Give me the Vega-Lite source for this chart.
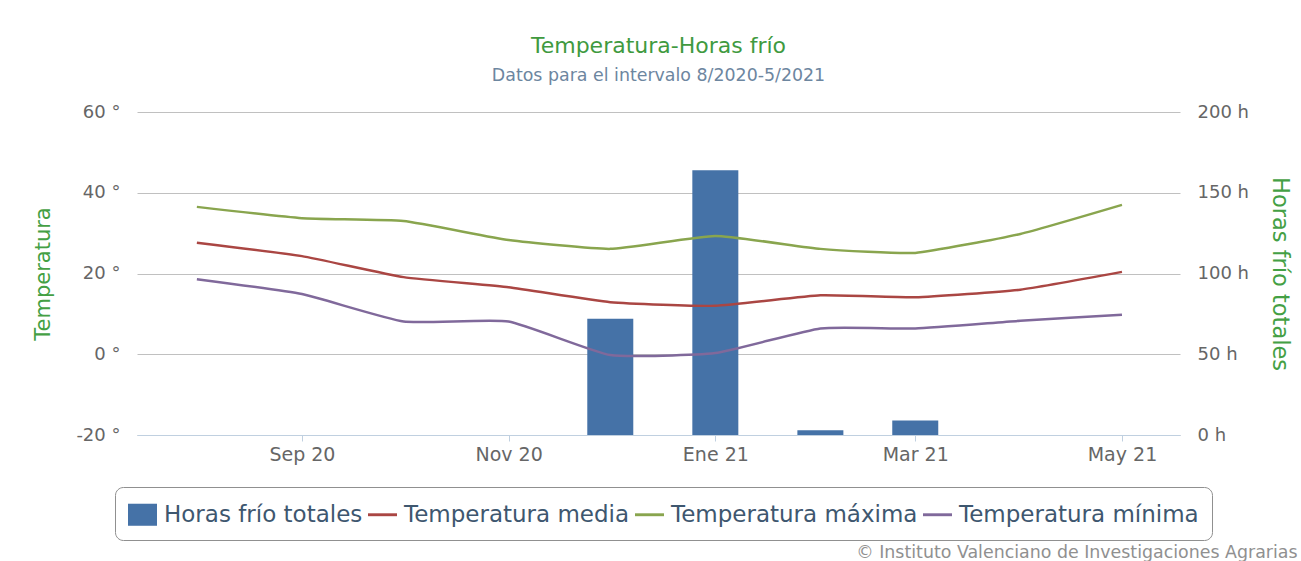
{
  "$schema": "https://vega.github.io/schema/vega-lite/v6.json",
  "width": 1043,
  "height": 323,
  "autosize": {"type": "none"},
  "padding": {"left": 137, "top": 112, "right": 121, "bottom": 126},
  "background": "#ffffff",
  "title": {
    "text": "Temperatura-Horas frío",
    "subtitle": "Datos para el intervalo 8/2020-5/2021",
    "anchor": "middle",
    "frame": "group",
    "offset": 18,
    "font": "DejaVu Sans",
    "fontSize": 22,
    "fontWeight": "normal",
    "color": "#3f9a3f",
    "subtitleFont": "DejaVu Sans",
    "subtitleFontSize": 17.4,
    "subtitleColor": "#6D869F",
    "subtitlePadding": 9
  },
  "datasets": {
    "horas": [
      {"fecha": "2020/08/01", "serie": "Horas frío totales", "horas": 0},
      {"fecha": "2020/09/01", "serie": "Horas frío totales", "horas": 0},
      {"fecha": "2020/10/01", "serie": "Horas frío totales", "horas": 0},
      {"fecha": "2020/11/01", "serie": "Horas frío totales", "horas": 0},
      {"fecha": "2020/12/01", "serie": "Horas frío totales", "horas": 72},
      {"fecha": "2021/01/01", "serie": "Horas frío totales", "horas": 164},
      {"fecha": "2021/02/01", "serie": "Horas frío totales", "horas": 3},
      {"fecha": "2021/03/01", "serie": "Horas frío totales", "horas": 9},
      {"fecha": "2021/04/01", "serie": "Horas frío totales", "horas": 0},
      {"fecha": "2021/05/01", "serie": "Horas frío totales", "horas": 0}
    ],
    "temp": [
      {"fecha": "2020/08/01", "serie": "Temperatura media", "temp": 27.6},
      {"fecha": "2020/09/01", "serie": "Temperatura media", "temp": 24.3},
      {"fecha": "2020/10/01", "serie": "Temperatura media", "temp": 19.1},
      {"fecha": "2020/11/01", "serie": "Temperatura media", "temp": 16.6},
      {"fecha": "2020/12/01", "serie": "Temperatura media", "temp": 12.9},
      {"fecha": "2021/01/01", "serie": "Temperatura media", "temp": 12.0},
      {"fecha": "2021/02/01", "serie": "Temperatura media", "temp": 14.6},
      {"fecha": "2021/03/01", "serie": "Temperatura media", "temp": 14.1},
      {"fecha": "2021/04/01", "serie": "Temperatura media", "temp": 16.0},
      {"fecha": "2021/05/01", "serie": "Temperatura media", "temp": 20.4},
      {"fecha": "2020/08/01", "serie": "Temperatura máxima", "temp": 36.5},
      {"fecha": "2020/09/01", "serie": "Temperatura máxima", "temp": 33.7},
      {"fecha": "2020/10/01", "serie": "Temperatura máxima", "temp": 33.0},
      {"fecha": "2020/11/01", "serie": "Temperatura máxima", "temp": 28.3},
      {"fecha": "2020/12/01", "serie": "Temperatura máxima", "temp": 26.1},
      {"fecha": "2021/01/01", "serie": "Temperatura máxima", "temp": 29.3},
      {"fecha": "2021/02/01", "serie": "Temperatura máxima", "temp": 26.1},
      {"fecha": "2021/03/01", "serie": "Temperatura máxima", "temp": 25.1},
      {"fecha": "2021/04/01", "serie": "Temperatura máxima", "temp": 29.8},
      {"fecha": "2021/05/01", "serie": "Temperatura máxima", "temp": 37.0},
      {"fecha": "2020/08/01", "serie": "Temperatura mínima", "temp": 18.6},
      {"fecha": "2020/09/01", "serie": "Temperatura mínima", "temp": 14.9},
      {"fecha": "2020/10/01", "serie": "Temperatura mínima", "temp": 8.1},
      {"fecha": "2020/11/01", "serie": "Temperatura mínima", "temp": 8.1},
      {"fecha": "2020/12/01", "serie": "Temperatura mínima", "temp": -0.2},
      {"fecha": "2021/01/01", "serie": "Temperatura mínima", "temp": 0.3},
      {"fecha": "2021/02/01", "serie": "Temperatura mínima", "temp": 6.4},
      {"fecha": "2021/03/01", "serie": "Temperatura mínima", "temp": 6.4},
      {"fecha": "2021/04/01", "serie": "Temperatura mínima", "temp": 8.3},
      {"fecha": "2021/05/01", "serie": "Temperatura mínima", "temp": 9.8}
    ]
  },
  "encoding": {
    "x": {
      "field": "fecha",
      "type": "temporal",
      "scale": {"domain": ["2020/07/14 08:00", "2021/05/18 03:00"], "padding": 0},
      "axis": {
        "values": ["2020/09/01", "2020/11/01", "2021/01/01", "2021/03/01", "2021/05/01"],
        "labelExpr": "['Ene','Feb','Mar','Abr','May','Jun','Jul','Ago','Sep','Oct','Nov','Dic'][month(datum.value)] + ' ' + timeFormat(datum.value, '%y')",
        "grid": false,
        "domainColor": "#C0D0E0",
        "domainWidth": 1,
        "tickColor": "#C0D0E0",
        "tickSize": 6,
        "labelFont": "DejaVu Sans",
        "labelFontSize": 19,
        "labelColor": "#666666",
        "labelPadding": 4,
        "title": "© Instituto Valenciano de Investigaciones Agrarias",
        "titleFont": "DejaVu Sans",
        "titleFontSize": 17.4,
        "titleFontWeight": "normal",
        "titleColor": "#909090",
        "titleAlign": "right",
        "titleAnchor": "end",
        "titleBaseline": "alphabetic",
        "titleX": 1160,
        "titleY": 122
      }
    }
  },
  "layer": [
    {
      "data": {"name": "horas"},
      "mark": {"type": "bar", "width": 46},
      "encoding": {
        "y": {
          "field": "horas",
          "type": "quantitative",
          "scale": {"domain": [0, 200], "nice": false},
          "axis": {
            "orient": "right",
            "values": [0, 50, 100, 150, 200],
            "labelExpr": "datum.value + ' h'",
            "grid": false,
            "domain": false,
            "ticks": false,
            "labelFont": "DejaVu Sans",
            "labelFontSize": 18,
            "labelColor": "#666666",
            "labelPadding": 17,
            "title": "Horas frío totales",
            "titleFont": "DejaVu Sans",
            "titleFontSize": 22.5,
            "titleFontWeight": "normal",
            "titleColor": "#44a044",
            "titlePadding": 19
          }
        },
        "color": {
          "field": "serie",
          "type": "nominal",
          "scale": {
            "domain": ["Horas frío totales", "Temperatura media", "Temperatura máxima", "Temperatura mínima"],
            "range": ["#4572A7", "#AA4643", "#89A54E", "#80699B"]
          },
          "legend": {
            "encode": {
              "symbols": {
                "update": {
                  "shape": {"signal": "datum.value === 'Horas frío totales' ? 'M-1,-0.76H1V0.76H-1Z' : 'M-1,-0.1H1V0.1H-1Z'"},
                  "fill": {"scale": "color", "field": "value"},
                  "stroke": {"value": "transparent"},
                  "strokeWidth": {"value": 0},
                  "opacity": {"value": 1}
                }
              }
            }
          }
        }
      }
    },
    {
      "data": {"name": "temp"},
      "mark": {"type": "line", "strokeWidth": 2.5, "interpolate": "cardinal", "tension": 0.55},
      "encoding": {
        "y": {
          "field": "temp",
          "type": "quantitative",
          "scale": {"domain": [-20, 60], "nice": false},
          "axis": {
            "orient": "left",
            "values": [-20, 0, 20, 40, 60],
            "labelExpr": "datum.value + ' °'",
            "grid": true,
            "gridColor": "#C0C0C0",
            "gridWidth": 1,
            "domain": false,
            "ticks": false,
            "labelFont": "DejaVu Sans",
            "labelFontSize": 18,
            "labelColor": "#666666",
            "labelPadding": 17,
            "title": "Temperatura",
            "titleFont": "DejaVu Sans",
            "titleFontSize": 21,
            "titleFontWeight": "normal",
            "titleColor": "#44a044",
            "titlePadding": 22
          }
        },
        "color": {"field": "serie", "type": "nominal"}
      }
    }
  ],
  "resolve": {"scale": {"y": "independent"}},
  "config": {
    "view": {"stroke": null},
    "legend": {
      "orient": "none",
      "legendX": -22,
      "legendY": 375,
      "direction": "horizontal",
      "title": null,
      "strokeColor": "#909090",
      "cornerRadius": 8,
      "padding": 13,
      "labelFont": "DejaVu Sans",
      "labelFontSize": 23,
      "labelColor": "#3E576F",
      "labelLimit": 0,
      "labelOffset": 7,
      "columnPadding": 5,
      "symbolSize": 841
    }
  }
}
